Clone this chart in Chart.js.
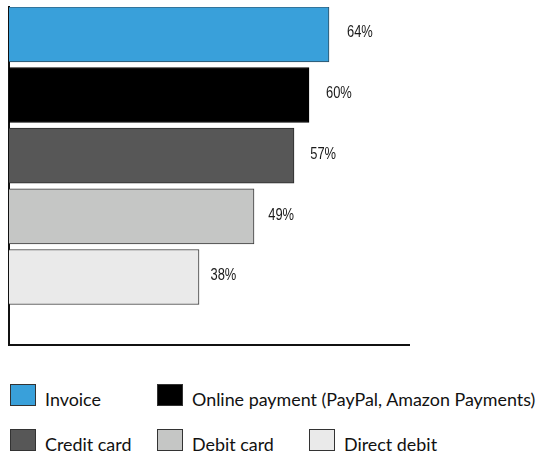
<!DOCTYPE html>
<html>
<head>
<meta charset="utf-8">
<script src="https://cdn.jsdelivr.net/npm/chart.js@4/dist/chart.umd.min.js"></script>
<style>
  html, body { margin: 0; padding: 0; background: #fff; }
  #wrap { position: relative; width: 541px; height: 457px; }
  #c { position: absolute; left: 0; top: 0; }
  #legend { position: absolute; left: 10px; top: 384px; width: 531px;
    display: grid; grid-template-columns: 147px 152px auto; row-gap: 23px;
    font-family: Lato, "Open Sans", sans-serif; font-size: 17.9px; color: #111; }
  .item { display: flex; align-items: flex-start; white-space: nowrap; }
  .box { width: 26px; height: 22px; box-sizing: border-box; border: 1px solid #333; margin-right: 9px; flex: none; }
  .txt { line-height: 22px; position: relative; top: 4px; }
  .span2 { grid-column: 2 / span 2; }
</style>
</head>
<body>
<div id="wrap">
  <canvas id="c" width="541" height="350"></canvas>
  <div id="legend"></div>
</div>
<script>
const categories = ["Invoice", "Online payment (PayPal, Amazon Payments)", "Credit card", "Debit card", "Direct debit"];
const values = [64, 60, 57, 49, 38];
const colors = ["#39a0da", "#000000", "#575757", "#c5c6c5", "#eaeaea"];
const borders = ["#2d4b5e", "#000000", "#2a2a2a", "#3a3a3a", "#3a3a3a"];

const datasets = categories.map((name, i) => ({
  label: name,
  data: [{ x: values[i], y: i }],
  backgroundColor: colors[i],
  borderColor: borders[i],
  borderWidth: 1,
  barThickness: 55
}));

const valueLabels = {
  id: 'valueLabels',
  afterDatasetsDraw(chart) {
    const ctx = chart.ctx;
    const xs = chart.scales.x;
    ctx.save();
    ctx.font = '17px "Liberation Sans", Arial, sans-serif';
    ctx.fillStyle = '#1a1a1a';
    ctx.textBaseline = 'middle';
    ctx.textAlign = 'left';
    chart.data.datasets.forEach((ds, i) => {
      const meta = chart.getDatasetMeta(i);
      meta.data.forEach((bar, j) => {
        const v = ds.data[j].x;
        const len = bar.x - xs.getPixelForValue(0);
        ctx.save();
        ctx.translate(bar.x + 2 + 0.05 * len, bar.y - 1.5);
        ctx.scale(0.76, 1);
        ctx.fillText(v + '%', 0, 0);
        ctx.restore();
      });
    });
    ctx.restore();
  }
};

const chart = new Chart(document.getElementById('c'), {
  type: 'bar',
  data: { datasets },
  options: {
    indexAxis: 'y',
    responsive: false,
    animation: false,
    layout: { padding: { left: 9, right: 132, top: 7, bottom: 5 } },
    plugins: { legend: { display: false }, tooltip: { enabled: false } },
    scales: {
      x: {
        type: 'linear', min: 0, max: 80,
        grid: { display: false, drawTicks: false },
        ticks: { display: false },
        border: { display: true, color: '#111', width: 2 }
      },
      y: {
        type: 'linear', reverse: true, stacked: true, offset: false,
        min: -0.45, max: 5.12,
        grid: { display: false, drawTicks: false, offset: false },
        ticks: { display: false, stepSize: 1 },
        border: { display: true, color: '#111', width: 2 }
      }
    }
  },
  plugins: [valueLabels]
});

// HTML legend built from the chart's datasets
const legendEl = document.getElementById('legend');
chart.data.datasets.forEach((ds, i) => {
  const item = document.createElement('div');
  item.className = 'item' + (i === 1 ? ' span2' : '');
  const box = document.createElement('span');
  box.className = 'box';
  box.style.background = ds.backgroundColor;
  const txt = document.createElement('span');
  txt.className = 'txt';
  txt.textContent = ds.label;
  item.appendChild(box);
  item.appendChild(txt);
  legendEl.appendChild(item);
});
</script>
</body>
</html>
